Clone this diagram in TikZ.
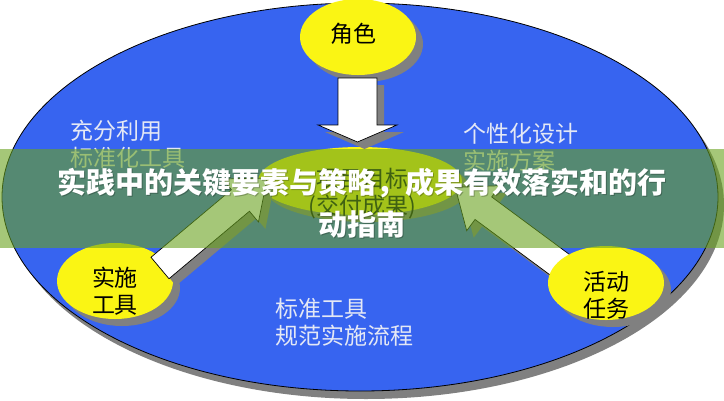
\documentclass[tikz,border=0pt]{standalone}
\usepackage{fontspec}
\newfontfamily\cjk{Noto Sans CJK SC}
\usetikzlibrary{shapes.geometric,shadows}
\definecolor{bigblue}{RGB}{55,100,240}
\definecolor{shadowgray}{RGB}{128,128,128}
\definecolor{circyellow}{RGB}{250,245,20}
\definecolor{labelgray}{RGB}{228,232,245}
\definecolor{bandgreen}{RGB}{105,163,30}
\begin{document}
\begin{tikzpicture}[x=1pt,y=-1pt,
  shadowed/.style={general shadow={fill=shadowgray, shadow xshift=7pt, shadow yshift=-7pt}},
  bluedisc/.style={ellipse, draw=black, line width=0.8pt, fill=bigblue, inner sep=0pt,
    general shadow={fill=shadowgray, shadow xshift=6pt, shadow yshift=-8pt}},
  yellowdisc/.style={ellipse, fill=circyellow, inner sep=0pt, shadowed},
  arrowbody/.style={fill=white, draw=black, line width=0.7pt, line join=miter},
  arrowshadow/.style={fill=shadowgray},
  circlabel/.style={font=\cjk\fontsize{23}{27}\selectfont, text=black, align=center, inner sep=0pt},
  bluelabel/.style={font=\cjk\fontsize{23}{27}\selectfont, text=labelgray, align=left, inner sep=0pt, anchor=west},
  band/.style={fill=bandgreen, fill opacity=0.6, minimum width=724pt, minimum height=99pt, inner sep=0pt},
  titletext/.style={font=\cjk\bfseries\fontsize{29}{35}\selectfont, text=white, inner sep=0pt},
  titleshade/.style={font=\cjk\bfseries\fontsize{29}{35}\selectfont, text=black, text opacity=0.25, inner sep=0pt},
  pics/widearrow/.style={code={
    \path[pic actions] (0,-14) -- (#1-35,-14) -- (#1-35,-28) -- (#1,0)
      -- (#1-35,28) -- (#1-35,14) -- (0,14) -- cycle;}}
]
\useasboundingbox (0,0) rectangle (724,400);
\fill[white] (0,0) rectangle (724,400);

% big blue ellipse
\node[bluedisc, minimum width=716pt, minimum height=388pt] (field) at (360,197) {};

% central goal ellipse
\node[yellowdisc, minimum width=204pt, minimum height=68pt] (goal) at (360,181) {};

% top circle and down arrow
\node[yellowdisc, minimum width=116pt, minimum height=76pt] (role) at (358,37) {};
\coordinate (downtop) at (357.5,78);
\path[arrowbody, shadowed] (338,78) -- (377,78) -- (377,125) -- (397,125) -- (357.5,142)
  -- (318,125) -- (338,125) -- cycle;

% bottom-left circle and its arrow
\node[yellowdisc, minimum width=116pt, minimum height=76pt] (tools) at (115,281) {};
\pic[arrowshadow, rotate=40] at (167,275) {widearrow=140};
\pic[arrowbody, rotate=40] (larrow) at (160,268) {widearrow=140};

% bottom-right arrow and circle
\pic[arrowshadow, rotate=143.5] at (582,283) {widearrow=149};
\pic[arrowbody, rotate=143.5] (rarrow) at (575,276) {widearrow=149};
\node[yellowdisc, minimum width=116pt, minimum height=74pt] (tasks) at (606,283) {};

% texts
\node[circlabel] (roletxt) at (353,34) {角色};
\node[circlabel] (goaltxt) at (362,194) {项目目标\\(交付成果)};
\node[circlabel] (toolstxt) at (115,291) {实施\\工具};
\node[circlabel] (taskstxt) at (606,295) {活动\\任务};
\node[bluelabel] (lab1) at (70,144) {充分利用\\标准化工具};
\node[bluelabel] (lab2) at (463,147) {个性化设计\\实施方案};
\node[bluelabel] (lab3) at (275,322) {标准工具\\规范实施流程};

% overlay banner
\node[band] (banner) at (362,198.5) {};
\node[titleshade] at (363.2,184.5) {实践中的关键要素与策略，成果有效落实和的行};
\node[titleshade] at (363.2,225.5) {动指南};
\node[titletext] (title1) at (362,183) {实践中的关键要素与策略，成果有效落实和的行};
\node[titletext] (title2) at (362,224) {动指南};
\end{tikzpicture}
\end{document}
